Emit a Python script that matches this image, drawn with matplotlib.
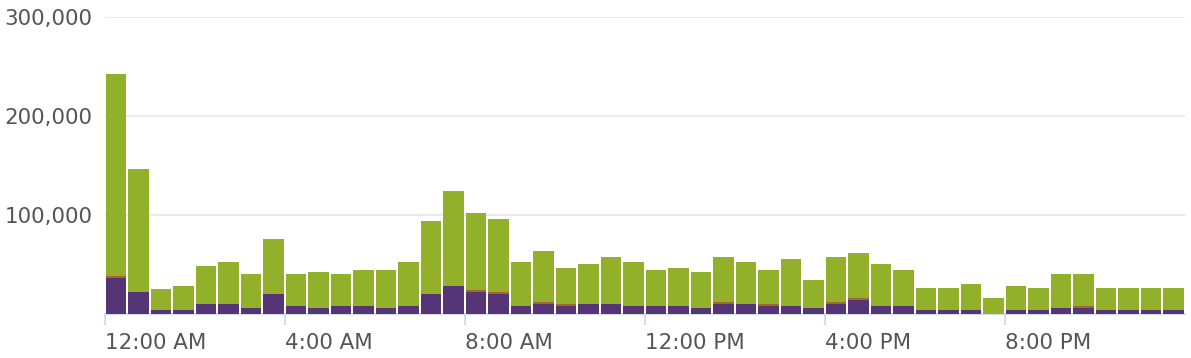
import numpy as np
import matplotlib
matplotlib.use("Agg")
import matplotlib.pyplot as plt
from matplotlib.ticker import FuncFormatter

# half-hour slots, values in thousands
hours = np.arange(48) * 0.5
purple = [36, 22, 4, 4, 10, 10, 6, 20, 8, 6, 8, 8,
          6, 8, 20, 28, 22, 20, 8, 10, 8, 10, 10, 8,
          8, 8, 6, 10, 10, 8, 8, 6, 10, 14, 8, 8,
          4, 4, 4, 0, 4, 4, 6, 6, 4, 4, 4, 4]
brown = [2, 0, 0, 0, 0, 0, 0, 0, 0, 0, 0, 0,
         0, 0, 0, 0, 2, 2, 0, 2, 2, 0, 0, 0,
         0, 0, 0, 2, 0, 2, 0, 0, 2, 2, 0, 0,
         0, 0, 0, 0, 0, 0, 0, 2, 0, 0, 0, 0]
green = [204, 124, 21.5, 24, 38, 42, 34, 56, 32, 36, 32, 36,
         38, 44, 74, 96, 78, 74, 44, 52, 36, 40, 48, 44,
         36, 38, 36, 46, 42, 34, 48, 28, 46, 46, 42, 36,
         22, 22, 26, 16, 24, 22, 34, 32, 22, 22, 22, 22]
tick_hours = [0, 4, 8, 12, 16, 20]
tick_labels = ["12:00 AM", "4:00 AM", "8:00 AM", "12:00 PM", "4:00 PM", "8:00 PM"]

p = np.array(purple) * 1000
b = np.array(brown) * 1000
g = np.array(green) * 1000

fig = plt.figure(figsize=(11.91, 3.58), dpi=100)
ax = fig.add_axes([105 / 1191, 44 / 358, 1080 / 1191, 297.3 / 358])

w = 0.455
off = 0.02
ax.bar(hours + off, p, width=w, align="edge", color="#563576", linewidth=0, zorder=3)
ax.bar(hours + off, b, width=w, align="edge", bottom=p, color="#a0692a", linewidth=0, zorder=3)
ax.bar(hours + off, g, width=w, align="edge", bottom=p + b, color="#93b02a", linewidth=0, zorder=3)

ax.set_xlim(0, 24)
ax.set_ylim(0, 300000)
ax.set_yticks([100000, 200000, 300000])
ax.yaxis.set_major_formatter(FuncFormatter(lambda v, pos: f"{int(v):,}"))
ax.grid(axis="y", color="#e6e6e6", linewidth=1.2, zorder=0)

ax.set_xticks(tick_hours)
ax.set_xticklabels(tick_labels, ha="left")

for s in ["top", "right", "left"]:
    ax.spines[s].set_visible(False)
ax.spines["bottom"].set_color("#ccd6eb")
ax.spines["bottom"].set_linewidth(1.2)

ax.tick_params(axis="x", length=8, width=1.2, color="#ccd6eb", pad=6,
               labelsize=15.4, labelcolor="#555555")
ax.tick_params(axis="y", length=0, pad=9, labelsize=15.4, labelcolor="#555555")

fig.savefig("out.png", dpi=100)
